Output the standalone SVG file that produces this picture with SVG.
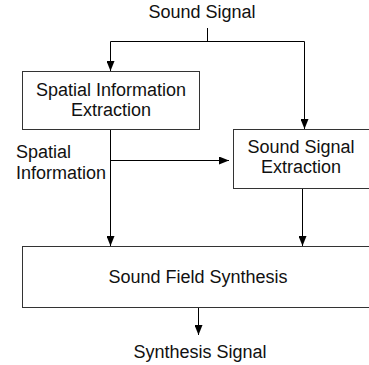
<svg xmlns="http://www.w3.org/2000/svg" width="369" height="365" viewBox="0 0 369 365">
<defs>
<marker id="ah" markerWidth="10" markerHeight="8" refX="10" refY="4" orient="auto" markerUnits="userSpaceOnUse">
<path d="M0,0 L10,4 L0,8 Z" fill="#000"/>
</marker>
<style>
text{font-family:"Liberation Sans",Arial,sans-serif;font-size:18px;fill:#111;text-anchor:middle}
.box{fill:#fff;stroke:#333;stroke-width:1}
.ln{fill:none;stroke:#000;stroke-width:1}
.la{fill:none;stroke:#000;stroke-width:1;marker-end:url(#ah)}
.l{text-anchor:start}
</style>
</defs>
<rect width="369" height="365" fill="#fff"/>
<g id="connectors">
<path class="ln" d="M207.5,28 V41.5"/>
<path class="ln" d="M110.5,41.5 H304.5"/>
<path class="la" d="M110.5,41.5 V71"/>
<path class="la" d="M304.5,41.5 V129"/>
<path class="la" d="M110.5,130 V246"/>
<path class="la" d="M110.5,160.5 H229"/>
<path class="la" d="M302.5,188 V246"/>
<path class="la" d="M198.5,308 V335"/>
</g>
<g id="label-input"><text x="202" y="18">Sound Signal</text></g>
<g id="spatial-extraction">
<rect class="box" x="22.5" y="71.5" width="177" height="58"/>
<text x="111" y="96">Spatial Information</text>
<text x="111" y="116">Extraction</text>
</g>
<g id="label-spatial">
<text class="l" x="16" y="158">Spatial</text>
<text class="l" x="16" y="179">Information</text>
</g>
<g id="sound-extraction">
<rect class="box" x="233.5" y="129.5" width="140" height="59"/>
<text x="301" y="153">Sound Signal</text>
<text x="301" y="173">Extraction</text>
</g>
<g id="synthesis">
<rect class="box" x="22.5" y="246.5" width="351" height="61"/>
<text x="198" y="283">Sound Field Synthesis</text>
</g>
<g id="label-output"><text x="200" y="358">Synthesis Signal</text></g>
</svg>
